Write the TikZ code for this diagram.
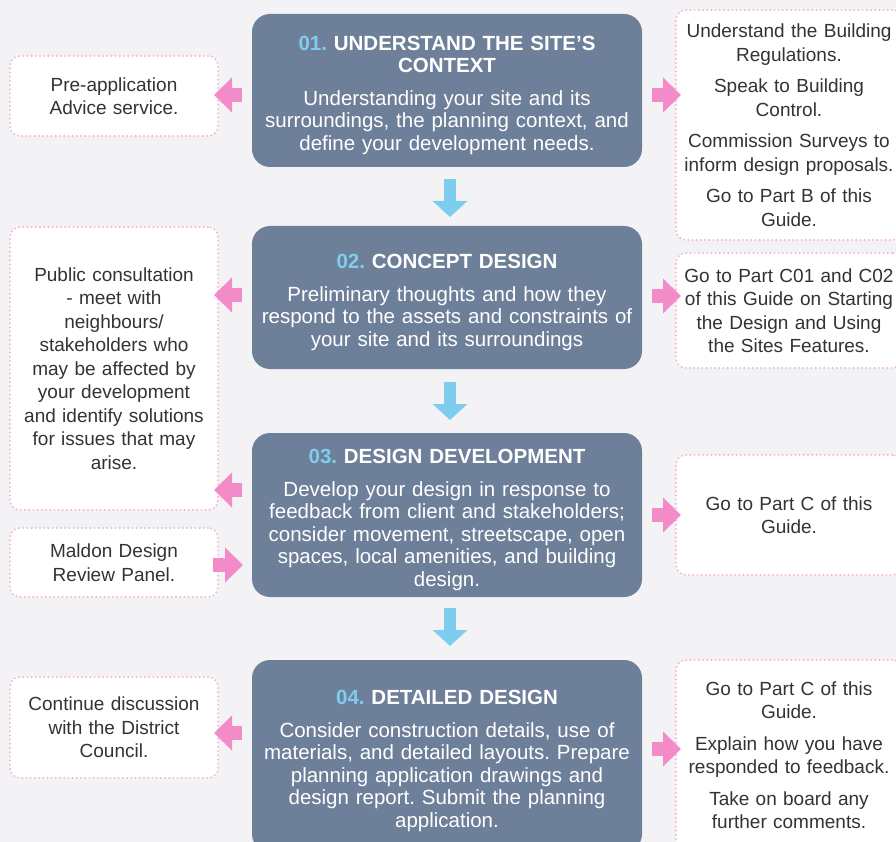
\documentclass[tikz,border=0pt]{standalone}
\usepackage{fontspec}
\setmainfont{Liberation Sans}
\usetikzlibrary{arrows.meta,positioning}

\definecolor{pagebg}{HTML}{F3F3F6}
\definecolor{stagefill}{HTML}{6E8099}
\definecolor{stepblue}{HTML}{7ECDEE}
\definecolor{pinkarr}{HTML}{F28BC7}
\definecolor{pinkdot}{HTML}{F7B4D8}
\definecolor{notetext}{HTML}{333333}

\frenchspacing
\newcommand{\stagetitle}[2]{{\fontsize{20.5}{22}\selectfont\bfseries\rule{0pt}{24pt}\textcolor{stepblue}{#1} #2}\\[10pt]}

\begin{document}
\begin{tikzpicture}[x=1pt,y=-1pt,
  stage/.style={fill=stagefill, rounded corners=18pt, minimum width=390pt,
    text width=384pt, align=center, text=white, inner sep=0pt,
    font=\fontsize{20.5}{22.5}\selectfont},
  note/.style={draw=pinkdot, fill=white, line width=2.2pt,
    dash pattern=on 0pt off 4.2pt, line cap=round, rounded corners=10pt,
    align=center, text=notetext, inner sep=0pt,
    font=\fontsize{19}{23.5}\selectfont},
  left note/.style={note, text width=208pt},
  right note/.style={note, text width=226pt},
  downarr/.style={draw=stepblue, line width=12pt, -{Triangle[length=16pt,width=34pt]}},
  sidearr/.style={draw=pinkarr, line width=14pt, -{Triangle[length=18pt,width=34pt]}}]

  \clip (0,0) rectangle (896,842);
  \fill[pagebg] (0,0) rectangle (896,842);

  % stages
  \node[stage, minimum height=153pt] (s1) at (447,90.5)
    {\stagetitle{01.}{UNDERSTAND THE SITE’S\\CONTEXT}Understanding your site and its\\surroundings, the planning context, and\\define your development needs.};
  \node[stage, minimum height=143pt] (s2) at (447,297.5)
    {\stagetitle{02.}{CONCEPT DESIGN}Preliminary thoughts and how they\\respond to the assets and constraints of\\your site and its surroundings};
  \node[stage, minimum height=164pt] (s3) at (447,515)
    {\stagetitle{03.}{DESIGN DEVELOPMENT}Develop your design in response to\\feedback from client and stakeholders;\\consider movement, streetscape, open\\spaces, local amenities, and building\\design.};
  \node[stage, minimum height=192pt] (s4) at (447,756)
    {\stagetitle{04.}{DETAILED DESIGN}Consider construction details, use of\\materials, and detailed layouts. Prepare\\planning application drawings and\\design report. Submit the planning\\application.};

  % left notes
  \node[left note, minimum height=80pt] (preapp) at (114,96) {Pre-application\\Advice service.};
  \node[left note, minimum height=283pt] (consult) at (114,368.5)
    {Public consultation\\- meet with\\neighbours/\\stakeholders who\\may be affected by\\your development\\and identify solutions\\for issues that may\\arise.};
  \node[left note, minimum height=69pt] (panel) at (114,562.5) {Maldon Design\\Review Panel.};
  \node[left note, minimum height=101pt] (council) at (114,727.5)
    {Continue discussion\\with the District\\Council.};

  % right notes
  \node[right note, minimum height=230pt] (regs) at (789,125)
    {Understand the Building\\Regulations.\\[8pt]Speak to Building\\Control.\\[8pt]Commission Surveys to\\inform design proposals.\\[8pt]Go to Part B of this\\Guide.};
  \node[right note, minimum height=115pt] (partc01) at (789,310.5)
    {Go to Part C01 and C02\\of this Guide on Starting\\the Design and Using\\the Sites Features.};
  \node[right note, minimum height=120pt] (partc) at (789,515) {Go to Part C of this\\Guide.};
  \node[right note, minimum height=190pt] (feedback) at (789,755)
    {Go to Part C of this\\Guide.\\[8pt]Explain how you have\\responded to feedback.\\[8pt]Take on board any\\further comments.};

  % flow down
  \draw[downarr] (450,179) -- (450,217);
  \draw[downarr] (450,382) -- (450,420);
  \draw[downarr] (450,608) -- (450,646);

  % side arrows
  \draw[sidearr] (242,95) -- (214,95);
  \draw[sidearr] (242,295) -- (214,295);
  \draw[sidearr] (242,490) -- (214,490);
  \draw[sidearr] (213,565) -- (243,565);
  \draw[sidearr] (242,733) -- (214,733);
  \draw[sidearr] (652,95) -- (681,95);
  \draw[sidearr] (652,296) -- (681,296);
  \draw[sidearr] (652,515) -- (681,515);
  \draw[sidearr] (652,749) -- (681,749);
\end{tikzpicture}
\end{document}
